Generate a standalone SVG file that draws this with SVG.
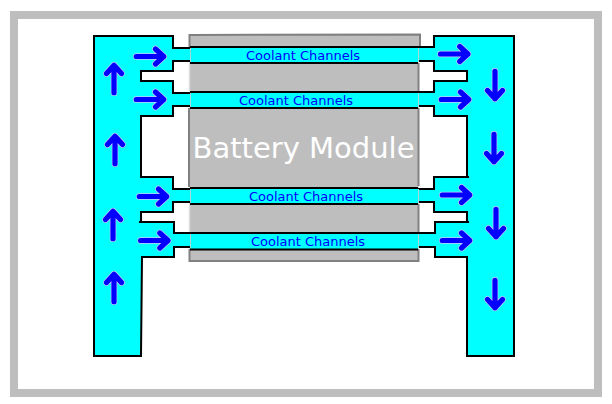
<svg xmlns="http://www.w3.org/2000/svg" width="612" height="404" viewBox="0 0 612 404">
<style>
.fillonly{fill:#00ffff}
.outline{fill:none;stroke:#000;stroke-width:2}
.channel{fill:#00ffff}
.edge{stroke:#000;stroke-width:2;fill:none}
.seam{stroke:#a8d8d8;stroke-width:1;fill:none}
.rim{stroke:#808080;stroke-width:2;fill:none}
.label{font-family:"DejaVu Sans",sans-serif;font-size:13px;fill:#0000ff;text-anchor:middle}
.halo{fill:none;stroke:#c8c8ff;stroke-width:6.500;stroke-linecap:round;stroke-linejoin:round}
.arrow{fill:none;stroke:#0000ff;stroke-width:5.200;stroke-linecap:round;stroke-linejoin:round}
</style>
<defs>
<g id="ar"><path class="halo" d="M-13.700 0H13.700M5.500-7.500 13.700 0 5.500 7.500"/><path class="arrow" d="M-13.700 0H13.700M5.500-7.500 13.700 0 5.500 7.500"/></g>
</defs>
<rect x="0" y="0" width="612" height="404" fill="#fff"/>
<rect id="frame" x="14" y="15" width="584" height="378" fill="#fff" stroke="#bebebe" stroke-width="8"/>
<g id="battery-module">
<path d="M189.500 35H420V46L418.500 47V261H189.500Z" fill="#bebebe"/>
<path class="rim" d="M189.500 47V35L420 34.500V46M189 108V187M418.500 63V92M418.500 108V186M418.500 204V233M189.500 249V261H418.500V249"/>
<path d="M189.500 64V91M189.500 205V232" stroke="#dcdcdc" stroke-width="1.500" fill="none"/>
<text x="303.500" y="158" font-family="'DejaVu Sans',sans-serif" font-size="29px" fill="#fff" text-anchor="middle">Battery Module</text>
</g>
<g id="left-manifold">
<path class="fillonly" d="M94 36H173V48H190V61H173V71H141V81H173V93H190V106H173V116H141V177H173V189H190V202H173V212H141V222H174V233H190V247H174V257H142L141 356H94Z"/>
<path class="outline" d="M190 48H173V36H94V356H141L142 257H174V247H190M190 233H174V222H139M141 222V212H173V202H190M190 189H173V177H141V116H173V106H190M190 93H173V81H141V71H173V61H190"/>
</g>
<g id="right-manifold">
<path class="fillonly" d="M514 36H434V47H418V61H434V71H467V81H434V92H418V106H434V116H467V177H434V189H418V202H434V212H467V222H435V233H418V247H435V257H467V356H514Z"/>
<path class="outline" d="M418 47H434V36H514V356H467V257H435V247H418M418 233H435V222H469M467 222V212H434V202H418M418 189H434V177H469M467 177V116H434V106H418M418 92H434V81H468M467 81V71H434V61H418"/>
</g>
<g id="channel-1"><rect class="channel" x="190" y="47" width="228" height="16"/><path class="edge" d="M190 47H418M190 63H418"/><path class="seam" d="M190.500 48V62M418.500 48V62"/><text class="label" x="303" y="60">Coolant Channels</text></g>
<g id="channel-2"><rect class="channel" x="190" y="92" width="228" height="16"/><path class="edge" d="M190 92H418M190 108H418"/><path class="seam" d="M190.500 93V107M418.500 93V107"/><text class="label" x="296" y="105">Coolant Channels</text></g>
<g id="channel-3"><rect class="channel" x="190" y="188" width="228" height="16"/><path class="edge" d="M190 188H418M190 204H418"/><path class="seam" d="M190.500 189V203M418.500 189V203"/><text class="label" x="306" y="201">Coolant Channels</text></g>
<g id="channel-4"><rect class="channel" x="190" y="233" width="228" height="16"/><path class="edge" d="M190 233H418M190 249.500H418"/><path class="seam" d="M190.500 234V248M418.500 234V248"/><text class="label" x="308" y="246">Coolant Channels</text></g>
<g id="connectors">
<use href="#ar" transform="translate(150 56.500)"/>
<use href="#ar" transform="translate(150 99.500)"/>
<use href="#ar" transform="translate(153 196.500)"/>
<use href="#ar" transform="translate(154.300 240.500)"/>
<use href="#ar" transform="translate(454.200 54)"/>
<use href="#ar" transform="translate(455 99.500)"/>
<use href="#ar" transform="translate(456 195)"/>
<use href="#ar" transform="translate(456 240.500)"/>
<use href="#ar" transform="translate(114 79) rotate(-90)"/>
<use href="#ar" transform="translate(115 150) rotate(-90)"/>
<use href="#ar" transform="translate(113 225) rotate(-90)"/>
<use href="#ar" transform="translate(114 288) rotate(-90)"/>
<use href="#ar" transform="translate(495 85) rotate(90)"/>
<use href="#ar" transform="translate(494 148) rotate(90)"/>
<use href="#ar" transform="translate(496 223) rotate(90)"/>
<use href="#ar" transform="translate(495 294) rotate(90)"/>
</g>
</svg>
